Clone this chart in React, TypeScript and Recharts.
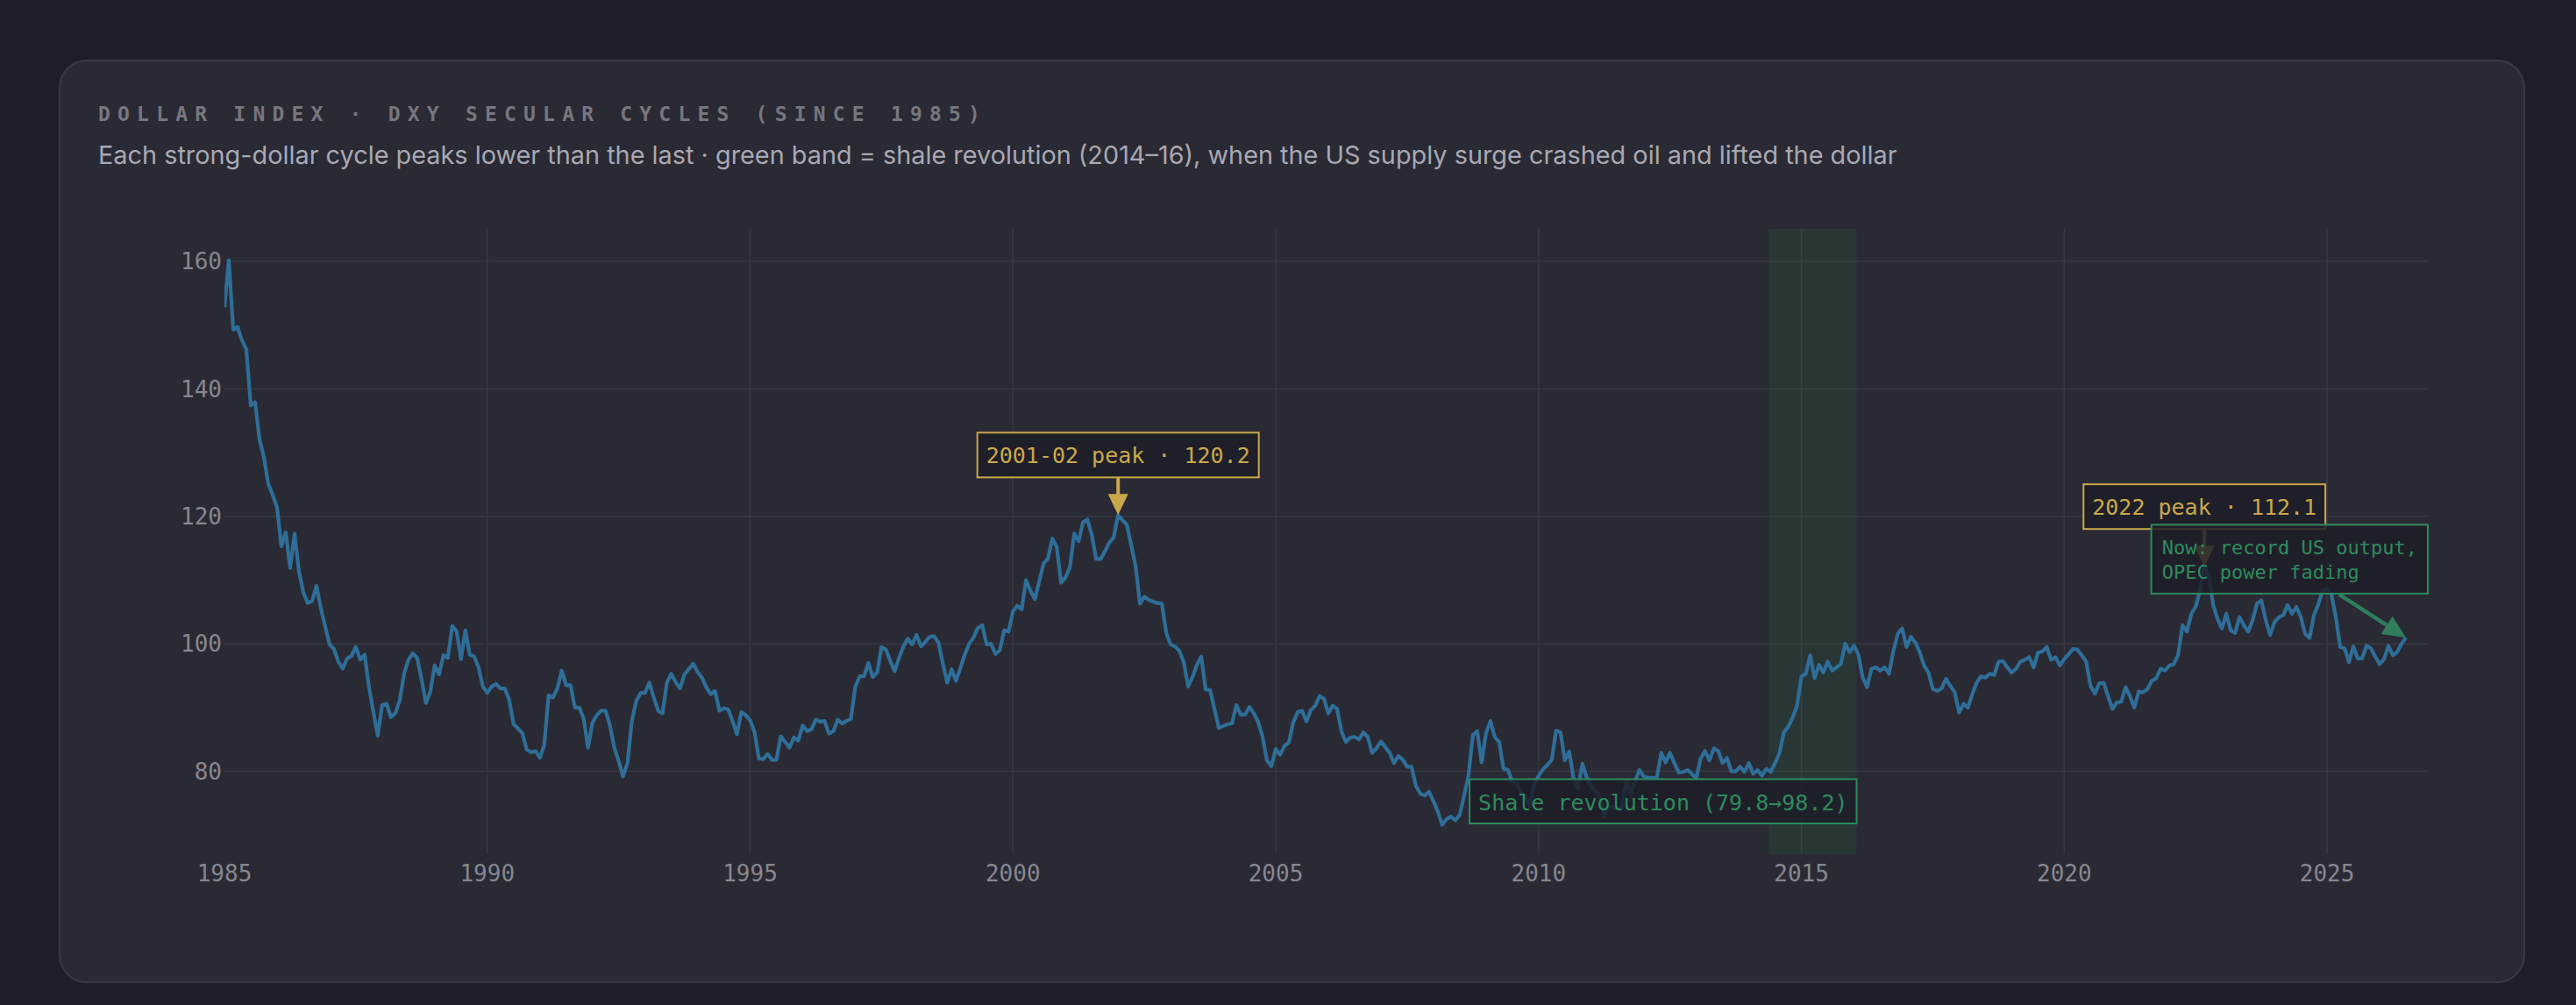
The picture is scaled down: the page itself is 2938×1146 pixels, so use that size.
import React from "react";
import { ComposedChart, Line, XAxis, YAxis, CartesianGrid, ReferenceArea, ReferenceDot } from "recharts";

// month-end DXY values; each list starts in January of its first year
const dxy1980s = [
    152.8, 160.2, 149.3, 149.7, 147.6, 146.2, 137.4, 137.9, 132.1, 129.3, 125.1, 123.4,
    121.4, 115.3, 117.5, 111.9, 117.3, 111.4, 108.1, 106.4, 106.7, 109.1, 105.6, 102.7,
    99.9, 99.2, 97.2, 96.1, 97.7, 98.1, 99.5, 97.5, 98.3, 93.2, 89.3, 85.6,
    90.4, 90.6, 88.5, 89.1, 91.1, 95.3, 97.5, 98.5, 97.8, 94.4, 90.7, 92.5,
    96.6, 95.2, 98.2, 97.8, 102.8, 102.0, 97.6, 102.1, 98.3, 98.0, 96.3, 93.3,
];
const dxy1990s = [
    92.3, 93.3, 93.7, 93.0, 93.0, 91.2, 87.4, 86.7, 86.0, 83.4, 83.0, 83.2,
    82.1, 84.1, 91.9, 91.6, 93.0, 95.8, 93.5, 93.5, 90.0, 90.0, 88.3, 83.7,
    87.6, 88.8, 89.5, 89.5, 87.2, 83.7, 81.6, 79.2, 81.3, 87.9, 91.0, 92.3,
    92.3, 93.9, 91.6, 89.5, 89.1, 93.9, 95.3, 94.0, 93.0, 95.2, 96.0, 96.9,
    95.6, 94.7, 93.2, 92.1, 92.6, 89.5, 89.9, 89.7, 87.9, 85.8, 89.3, 88.8,
    88.0, 86.2, 82.0, 81.9, 82.7, 81.8, 81.8, 85.5, 84.6, 83.7, 85.3, 84.8,
    87.2, 86.3, 86.6, 88.1, 87.8, 87.9, 85.9, 86.3, 88.1, 87.5, 87.9, 88.2,
    93.2, 94.9, 94.9, 97.0, 94.8, 95.5, 99.5, 99.1, 97.3, 95.7, 97.8, 99.6,
    100.8, 99.9, 101.4, 99.6, 100.3, 101.1, 101.2, 100.2, 96.9, 93.9, 96.0, 94.2,
    96.2, 98.3, 100.0, 101.0, 102.5, 102.9, 99.9, 100.0, 98.4, 99.0, 102.1, 101.9,
];
const dxy2000s = [
    105.1, 106.0, 105.4, 110.0, 108.3, 107.0, 109.8, 112.6, 113.4, 116.5, 115.2, 109.6,
    110.4, 112.0, 117.3, 116.1, 119.1, 119.5, 117.1, 113.3, 113.3, 114.5, 115.9, 116.7,
    120.2, 119.4, 118.7, 115.5, 112.2, 106.3, 107.4, 106.9, 106.6, 106.4, 106.3, 101.7,
    99.9, 99.6, 98.9, 97.1, 93.3, 94.8, 96.7, 98.0, 92.8, 92.8, 89.8, 86.8,
    87.1, 87.4, 87.5, 90.4, 88.9, 88.9, 90.1, 89.1, 87.7, 85.4, 81.7, 80.8,
    83.5, 82.6, 84.0, 84.5, 87.7, 89.3, 89.5, 87.8, 89.6, 90.3, 91.8, 91.4,
    89.1, 90.3, 89.8, 86.3, 84.6, 85.3, 85.4, 85.0, 86.1, 85.4, 82.9, 83.6,
    84.7, 83.8, 82.9, 81.3, 82.4, 81.8, 80.7, 80.7, 77.7, 76.5, 76.2, 76.8,
    75.3, 73.7, 71.6, 72.5, 72.9, 72.3, 73.2, 76.2, 79.4, 85.7, 86.3, 81.4,
    86.0, 87.9, 85.4, 84.6, 80.4, 80.2, 78.4, 78.1, 76.7, 76.0, 74.6, 77.9,
];
const dxy2010s = [
    79.3, 80.3, 81.0, 81.8, 86.4, 86.1, 81.7, 83.1, 78.8, 77.3, 81.2, 79.0,
    77.6, 76.9, 76.0, 73.0, 74.6, 74.3, 74.1, 74.2, 78.5, 76.4, 78.4, 80.2,
    79.2, 79.0, 79.0, 79.0, 82.9, 81.4, 82.9, 81.3, 79.8, 79.9, 80.2, 79.6,
    78.9, 82.0, 83.2, 81.7, 83.6, 83.2, 81.3, 82.1, 80.0, 80.0, 80.7, 79.9,
    81.3, 79.6, 80.2, 79.3, 80.4, 79.9, 81.3, 82.9, 86.1, 87.0, 88.4, 90.3,
    94.9, 95.3, 98.2, 94.6, 96.7, 95.5, 97.2, 95.8, 96.3, 96.8, 100.0, 98.7,
    99.7, 98.3, 94.7, 93.2, 96.1, 96.3, 95.8, 96.3, 95.3, 98.9, 101.6, 102.4,
    99.5, 101.1, 100.2, 98.7, 96.6, 95.5, 92.9, 92.6, 93.0, 94.5, 93.4, 92.4,
    89.2, 90.6, 90.0, 92.1, 93.9, 94.9, 94.7, 95.3, 95.1, 97.2, 97.3, 96.3,
    95.5, 96.1, 97.2, 97.5, 97.9, 96.3, 98.6, 98.8, 99.5, 97.5, 97.9, 96.6,
];
const dxy2020s = [
    97.6, 98.4, 99.2, 99.1, 98.2, 97.2, 93.4, 92.2, 93.8, 93.9, 91.8, 89.8,
    90.8, 90.9, 93.2, 91.8, 90.0, 92.5, 92.4, 92.9, 94.2, 94.6, 96.1, 95.8,
    96.6, 96.8, 98.3, 102.9, 101.9, 104.7, 105.8, 108.4, 112.1, 110.8, 106.1, 103.9,
    102.4, 104.7, 102.1, 101.7, 104.2, 102.9, 101.9, 103.7, 106.3, 106.8, 103.7, 101.4,
    103.4, 104.2, 104.5, 106.1, 104.7, 105.8, 104.2, 101.6, 100.9, 104.5, 106.2, 108.4,
    108.6, 107.7, 104.2, 99.5, 99.3, 97.1, 99.6, 97.7, 97.7, 99.7, 99.3, 98.0,
    96.8, 97.6, 99.7, 98.2, 98.7, 100.0, 101.0,
];
const decadeStarts = [1985, 1990, 2000, 2010, 2020];

const yearTicks = [1985, 1990, 1995, 2000, 2005, 2010, 2015, 2020, 2025];
const gridYears = [1990, 1995, 2000, 2005, 2010, 2015, 2020, 2025];
const valueTicks = [80, 100, 120, 140, 160];

const shaleBand = [2014.38, 2016.05];
const shaleLabel = "Shale revolution (79.8→98.2)";
const peak2001 = { t: 2002, v: 120.2, label: "2001-02 peak · 120.2" };
const peak2022 = { t: 2022 + 8 / 12, v: 112.1, label: "2022 peak · 112.1" };
const nowLines = ["Now: record US output,", "OPEC power fading"];

const series = [dxy1980s, dxy1990s, dxy2000s, dxy2010s, dxy2020s].flatMap((vals, d) =>
    vals.map((v, i) => ({ t: decadeStarts[d] + i / 12, v }))
);
const last = series[series.length - 1];

const MONO = "'DejaVu Sans Mono', monospace";
const GOLD = "#c9a84c";
const GREEN = "#2e8b5e";
const BOX = "#1e1e28";
const LINE = "#2e6e98";

const textW = (s: string, fs: number) => s.length * fs * 0.602;

const PeakCallout = (props: any) => {
    const { cx, cy, label } = props;
    const fs = 25;
    const pad = 10;
    const w = textW(label, fs) + pad * 2;
    const h = 51;
    const bottom = cy - 43;
    return (
        <g>
            <line x1={cx} y1={bottom} x2={cx} y2={cy - 22} stroke={GOLD} strokeWidth={4} />
            <polygon points={`${cx - 11.5},${cy - 24} ${cx + 11.5},${cy - 24} ${cx},${cy}`} fill={GOLD} />
            <rect x={cx - w / 2} y={bottom - h} width={w} height={h} fill={BOX} fillOpacity={0.9} stroke={GOLD} strokeWidth={2} />
            <text x={cx - w / 2 + pad} y={bottom - h + 35} fill={GOLD} fontFamily={MONO} fontSize={fs}>
                {label}
            </text>
        </g>
    );
};

const ShaleCallout = (props: any) => {
    const { cx, cy } = props;
    const fs = 25;
    const pad = 10;
    const w = textW(shaleLabel, fs) + pad * 2;
    const h = 50.5;
    const top = cy - 35 - h;
    return (
        <g>
            <rect x={cx - w} y={top} width={w} height={h} fill={BOX} fillOpacity={0.84} stroke={GREEN} strokeWidth={2} />
            <text x={cx - w + pad} y={top + 35} fill={GREEN} fontFamily={MONO} fontSize={fs}>
                {shaleLabel}
            </text>
        </g>
    );
};

const NowCallout = (props: any) => {
    const { cx, cy } = props;
    const fs = 22;
    const pad = 12;
    const w = textW(nowLines[0], fs) + pad * 2;
    const right = cx + 25;
    const top = cy - 128.5;
    const h = 78.5;
    // arrow toward the latest print
    const sx = cx - 76;
    const sy = cy - 49;
    const len = Math.hypot(cx - sx, cy - sy);
    const ux = (cx - sx) / len;
    const uy = (cy - sy) / len;
    const bx = cx - ux * 26;
    const by = cy - uy * 26;
    return (
        <g>
            <rect x={right - w} y={top} width={w} height={h} fill={BOX} fillOpacity={0.84} stroke={GREEN} strokeWidth={2} />
            {nowLines.map((s, i) => (
                <text key={s} x={right - w + pad} y={top + 33.5 + i * 28.3} fill={GREEN} fontFamily={MONO} fontSize={fs}>
                    {s}
                </text>
            ))}
            <line x1={sx} y1={sy} x2={bx} y2={by} stroke="#2f7d5a" strokeWidth={4.5} />
            <polygon
                points={`${cx},${cy} ${bx - uy * 12},${by + ux * 12} ${bx + uy * 12},${by - ux * 12}`}
                fill="#2f7d5a"
            />
        </g>
    );
};

export default function App() {
    return (
        <div style={{ position: "fixed", inset: 0, background: "#1e1e28", overflow: "hidden" }}>
            <div
                style={{
                    position: "absolute",
                    left: 67,
                    top: 68,
                    width: 2813,
                    height: 1053,
                    boxSizing: "border-box",
                    border: "2px solid #393944",
                    borderRadius: 32,
                    background: "#2a2a34",
                }}
            />
            <div
                style={{
                    position: "absolute",
                    left: 112,
                    top: 119,
                    fontFamily: MONO,
                    fontWeight: 700,
                    fontSize: 23,
                    lineHeight: "23px",
                    letterSpacing: "8.2px",
                    color: "#77767f",
                    whiteSpace: "nowrap",
                }}
            >
                DOLLAR INDEX · DXY SECULAR CYCLES (SINCE 1985)
            </div>
            <div
                style={{
                    position: "absolute",
                    left: 112,
                    top: 162,
                    fontFamily: "Inter, sans-serif",
                    fontSize: 28.85,
                    lineHeight: "29px",
                    color: "#a8a8b2",
                    whiteSpace: "nowrap",
                }}
            >
                Each strong-dollar cycle peaks lower than the last · green band = shale revolution (2014–16), when the US supply surge crashed oil and lifted the dollar
            </div>
            <div style={{ position: "absolute", left: 0, top: 0 }}>
                <ComposedChart
                    width={2938}
                    height={1146}
                    data={series}
                    margin={{ top: 261, right: 169, bottom: 112, left: 156 }}
                >
                    <CartesianGrid
                        stroke="#383842"
                        strokeWidth={1.5}
                        horizontalValues={valueTicks}
                        verticalValues={gridYears}
                    />
                    <ReferenceArea
                        x1={shaleBand[0]}
                        x2={shaleBand[1]}
                        fill="#288246"
                        fillOpacity={0.15}
                        stroke="none"
                    />
                    <XAxis
                        dataKey="t"
                        type="number"
                        domain={[1985, 1985 + 503 / 12]}
                        allowDataOverflow
                        ticks={yearTicks}
                        interval={0}
                        height={60}
                        axisLine={false}
                        tickLine={false}
                        tickSize={0}
                        tickMargin={13}
                        tick={{ fill: "#878791", fontSize: 26, fontFamily: MONO }}
                    />
                    <YAxis
                        type="number"
                        domain={[67, 165.1]}
                        allowDataOverflow
                        ticks={valueTicks}
                        interval={0}
                        width={100}
                        axisLine={false}
                        tickLine={false}
                        tickSize={0}
                        tickMargin={3}
                        tick={{ fill: "#878791", fontSize: 26, fontFamily: MONO }}
                    />
                    <Line
                        dataKey="v"
                        type="linear"
                        stroke={LINE}
                        strokeWidth={4.2}
                        strokeLinejoin="round"
                        dot={false}
                        activeDot={false}
                        isAnimationActive={false}
                    />
                    <ReferenceDot
                        x={shaleBand[1]}
                        y={67}
                        r={0}
                        shape={(p: any) => <ShaleCallout {...p} />}
                    />
                    <ReferenceDot
                        x={peak2001.t}
                        y={peak2001.v}
                        r={0}
                        shape={(p: any) => <PeakCallout {...p} label={peak2001.label} />}
                    />
                    <ReferenceDot
                        x={peak2022.t}
                        y={peak2022.v}
                        r={0}
                        shape={(p: any) => <PeakCallout {...p} label={peak2022.label} />}
                    />
                    <ReferenceDot
                        x={last.t}
                        y={last.v}
                        r={0}
                        shape={(p: any) => <NowCallout {...p} />}
                    />
                </ComposedChart>
            </div>
        </div>
    );
}
